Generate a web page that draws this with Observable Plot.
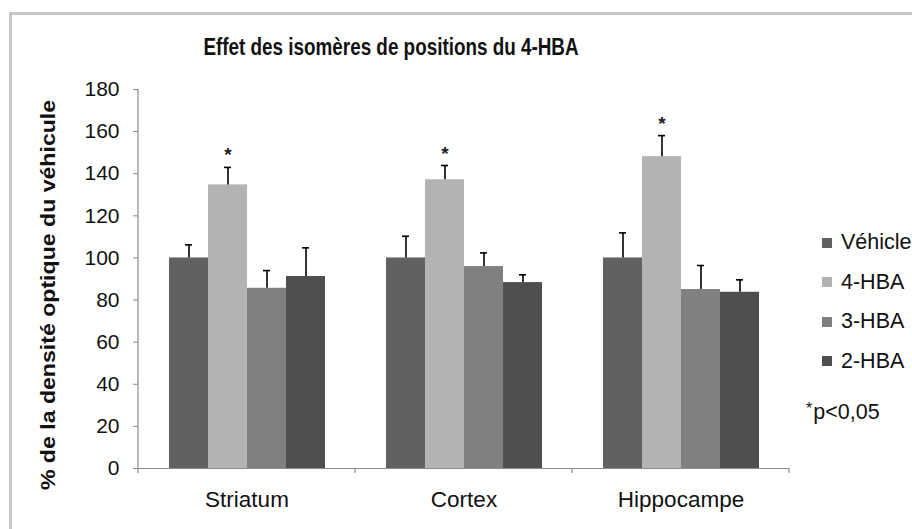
<!DOCTYPE html>
<html><head><meta charset="utf-8">
<script src="https://cdn.jsdelivr.net/npm/d3@7"></script>
<script src="https://cdn.jsdelivr.net/npm/@observablehq/plot@0.6"></script>
<style>
body{margin:0;overflow:hidden;background:#fff;font-family:"Liberation Sans",Arial,sans-serif}
#wrap{position:relative;width:912px;height:529px;overflow:hidden;background:#fff}
#frame{position:absolute;left:9px;top:12px;width:1200px;height:800px;border-left:3px solid #c6c6c6;border-top:3px solid #c6c6c6}
#chart{position:absolute;left:0;top:0}
#title{position:absolute;left:391px;top:47px;transform:translate(-50%,-50%) scaleX(0.82);font-weight:bold;font-size:23px;color:#111;white-space:nowrap}
#ylabel{position:absolute;left:48px;top:295px;transform:translate(-50%,-50%) rotate(-90deg) scaleX(1.1);font-weight:bold;font-size:21px;color:#111;white-space:nowrap}
#legend{position:absolute;left:822px;top:223px;font-size:21.5px;color:#111;white-space:nowrap}
.row{height:39.5px;display:flex;align-items:center}
.sw{width:10px;height:10px;margin-right:9px;flex:none}
.note{margin-top:12px;margin-left:-16px;height:39.5px;display:flex;align-items:center}
.note sup{font-size:16px;position:relative;top:-4px;margin-right:1px}
</style></head><body>
<div id="wrap"><div id="frame"></div><div id="chart"></div>
<div id="title"></div><div id="ylabel"></div><div id="legend"></div></div>
<script>
const titleText = "Effet des isomères de positions du 4-HBA";
const yLabel = "% de la densité optique du véhicule";
const categories = ["Striatum", "Cortex", "Hippocampe"];
const series = ["Véhicle", "4-HBA", "3-HBA", "2-HBA"];
const colors = ["#616161", "#b3b3b3", "#808080", "#4f4f4f"];
const yTicks = [0, 20, 40, 60, 80, 100, 120, 140, 160, 180];
// values per series, in category order
const vehicle = [100, 100, 100];
const hba4 = [134.7, 137.1, 148.1];
const hba3 = [85.6, 95.9, 85.0];
const hba2 = [91.2, 88.3, 83.7];
// upper error (SEM) per series
const errVehicle = [6.2, 10.3, 11.9];
const errHba4 = [8.3, 6.8, 10.0];
const errHba3 = [8.4, 6.5, 11.4];
const errHba2 = [13.6, 3.7, 5.9];
// significance markers
const sigVehicle = [false, false, false];
const sigHba4 = [true, true, true];
const sigHba3 = [false, false, false];
const sigHba2 = [false, false, false];
const noteText = "p<0,05";

const valueLists = [vehicle, hba4, hba3, hba2];
const errLists = [errVehicle, errHba4, errHba3, errHba2];
const sigLists = [sigVehicle, sigHba4, sigHba3, sigHba2];
const rows = [];
categories.forEach((c, i) => series.forEach((s, j) => rows.push({
  region: c, treatment: s, value: valueLists[j][i], top: valueLists[j][i] + errLists[j][i], sig: sigLists[j][i]
})));

const plot = Plot.plot({
  width: 912, height: 529,
  marginLeft: 137, marginRight: 123, marginTop: 89, marginBottom: 61,
  style: {fontFamily: "Liberation Sans, Arial, sans-serif", color: "#111", background: "transparent"},
  fx: {domain: categories, padding: 0, label: null},
  x: {domain: series, paddingInner: 0, paddingOuter: 0.75, axis: null},
  y: {domain: [0, 180], label: null},
  color: {domain: series, range: colors},
  marks: [
    Plot.axisY({ticks: yTicks, tickSize: 5, tickPadding: 14, label: null, fontSize: 21, stroke: "#888", fill: "#111"}),
    Plot.axisFx({anchor: "bottom", tickSize: 0, tickPadding: 23, label: null, fontSize: 22.5, fill: "#111"}),
    Plot.barY(rows, {fx: "region", x: "treatment", y: "value", fill: "treatment"}),
    Plot.ruleX(rows, {fx: "region", x: "treatment", y1: "value", y2: "top", stroke: "#000", strokeWidth: 1.6}),
    Plot.tickY(rows, {fx: "region", x: "treatment", y: "top", insetLeft: 16, insetRight: 16, stroke: "#000", strokeWidth: 1.6}),
    Plot.text(rows.filter(d => d.sig), {fx: "region", x: "treatment", y: "top", text: () => "*", dy: -12, fontSize: 19, fontWeight: "bold", fill: "#222"}),
    Plot.ruleY([0], {stroke: "#8a8a8a", strokeWidth: 1.2})
  ]
});
document.getElementById("chart").appendChild(plot);

// axis line and category boundary ticks, from the plot's own scales
const ys = plot.scale("y"), fxs = plot.scale("fx");
const svg = d3.select(plot);
const x0 = fxs.apply(categories[0]);
svg.append("line").attr("x1", x0).attr("x2", x0).attr("y1", ys.apply(0) + 5).attr("y2", ys.apply(180))
  .attr("stroke", "#8a8a8a").attr("stroke-width", 1.2);
categories.forEach(c => {
  const xe = fxs.apply(c) + fxs.bandwidth;
  svg.append("line").attr("x1", xe).attr("x2", xe).attr("y1", ys.apply(0)).attr("y2", ys.apply(0) + 5)
    .attr("stroke", "#8a8a8a").attr("stroke-width", 1.2);
});

document.getElementById("title").textContent = titleText;
document.getElementById("ylabel").textContent = yLabel;
const leg = document.getElementById("legend");
series.forEach((s, i) => {
  const r = document.createElement("div"); r.className = "row";
  const sw = document.createElement("span"); sw.className = "sw"; sw.style.background = colors[i];
  r.appendChild(sw); r.appendChild(document.createTextNode(s)); leg.appendChild(r);
});
const note = document.createElement("div"); note.className = "note";
note.innerHTML = "<sup>*</sup>"; note.appendChild(document.createTextNode(noteText));
leg.appendChild(note);
</script>
</body></html>
